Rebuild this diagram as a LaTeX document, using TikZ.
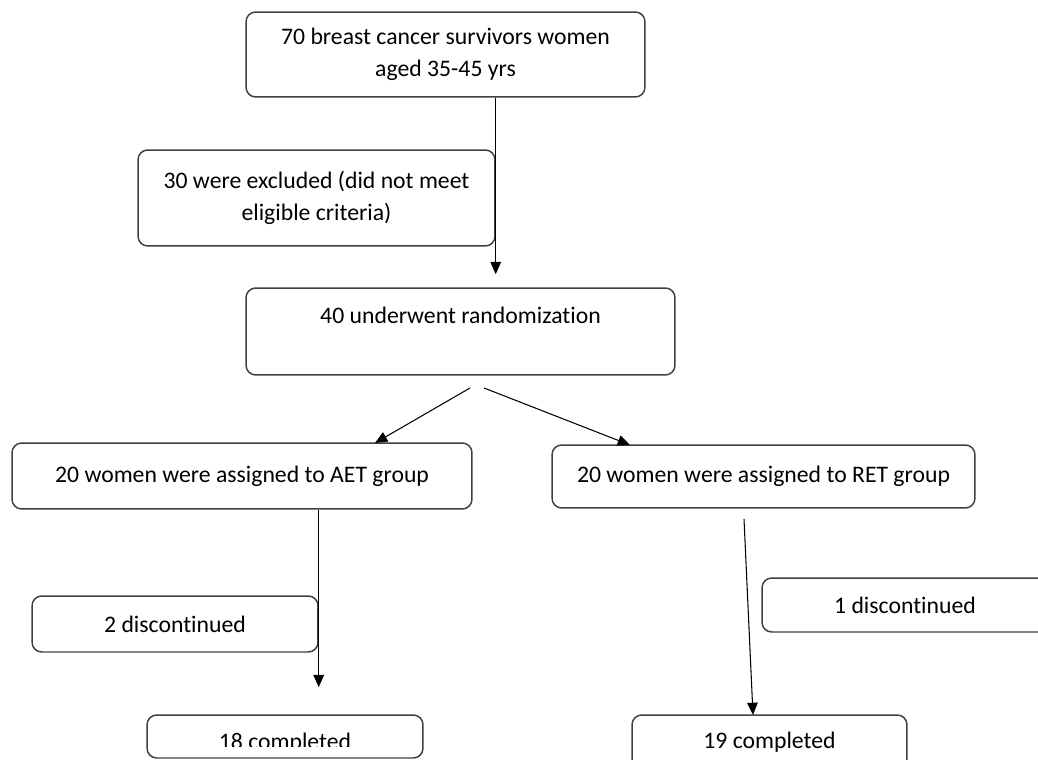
\documentclass[tikz,border=0pt]{standalone}
\usepackage{fontspec}
\setmainfont{Carlito}[Ligatures={NoCommon,NoContextual}]
\usetikzlibrary{arrows.meta}

\begin{document}
\begin{tikzpicture}[x=0.02cm,y=-0.02cm,>={Triangle[length=7pt,width=6pt]},
    box/.style={draw=black!75,line width=0.85pt,rounded corners=5.5pt,align=center,inner sep=0pt,
        font=\fontsize{13.5}{18}\selectfont},
    line/.style={->,line width=0.6pt}]
    \useasboundingbox (0,0) rectangle (1038,760);
    \clip (0,0) rectangle (1038,760);
    \node[box,minimum width=7.98cm,minimum height=1.70cm](top)at(445.5, 54.5){70 breast cancer survivors women\\aged 35-45 yrs};
    \node[box,minimum width=7.14cm,minimum height=1.92cm](excl)at(316.5, 198){30 were excluded (did not meet\\eligible criteria)};
    \node[box,minimum width=8.58cm,minimum height=1.74cm](rand)at(460.5, 331.5){40 underwent randomization\\\mbox{}};
    \node[box,minimum width=9.20cm,minimum height=1.32cm](aet)at(242, 476){20 women were assigned to AET group};
    \node[box,minimum width=8.46cm,minimum height=1.26cm](ret)at(763.5, 476.5){20 women were assigned to RET group};
    \node[box,minimum width=5.72cm,minimum height=1.12cm](disc2)at(175, 624){2 discontinued};
    \node[box,minimum width=5.72cm,minimum height=1.08cm](disc1)at(905, 605){1 discontinued};
    \node[box,minimum width=5.52cm,minimum height=0.86cm,
        path picture={\clip (path picture bounding box.north west) rectangle ([yshift=0.24cm]path picture bounding box.south east);
            \node[font=\fontsize{13.5}{18}\selectfont,anchor=base] at ([yshift=-0.25cm]path picture bounding box.center){18 completed};}](done18)at(285, 736.5){};
    \node[box,minimum width=5.50cm,minimum height=1.08cm](done19)at(769.5, 742){19 completed};
    \coordinate(split1)at(470, 388);
    \coordinate(split2)at(484, 388);
    \coordinate(aetin)at(375, 443);
    \coordinate(retin)at(630, 445);
    \coordinate(retout)at(744, 519);
    \coordinate(done19in)at(753, 715);
    \draw[line,shorten >=0.26cm] (top.south -| excl.east) -- (rand.north -| excl.east);
    \draw[line] (split1) -- (aetin);
    \draw[line] (split2) -- (retin);
    \draw[line,shorten >=0.54cm] (aet.south -| disc2.east) -- (done18.north -| disc2.east);
    \draw[line] (retout) -- (done19in);
\end{tikzpicture}
\end{document}
